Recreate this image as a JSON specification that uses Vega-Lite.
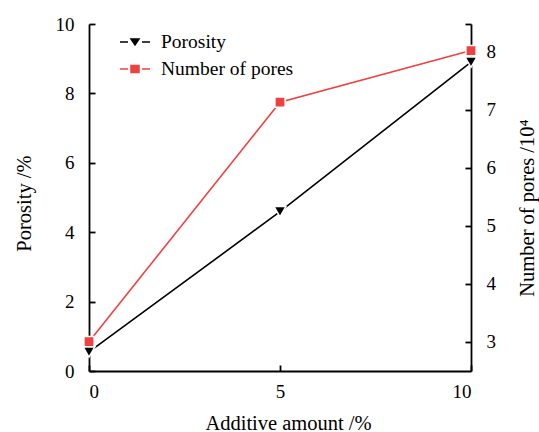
{
  "$schema": "https://vega.github.io/schema/vega-lite/v6.json",
  "width": 382,
  "height": 347,
  "autosize": {"type": "none"},
  "padding": {"left": 89, "top": 24, "right": 68, "bottom": 61},
  "background": "white",
  "config": {
    "view": {"stroke": null},
    "font": "Liberation Serif",
    "axis": {
      "grid": false,
      "domainColor": "black",
      "tickColor": "black",
      "domainWidth": 1.8,
      "tickWidth": 1.8,
      "tickSize": -6,
      "labelFont": "Liberation Serif",
      "labelFontSize": 19,
      "labelColor": "black",
      "labelOverlap": false,
      "titleFont": "Liberation Serif",
      "titleFontSize": 20.5,
      "titleFontWeight": "normal",
      "titleColor": "black",
      "zindex": 1
    },
    "legend": {
      "orient": "none",
      "legendX": 35,
      "legendY": 7,
      "padding": 0,
      "symbolSize": 400,
      "symbolStrokeWidth": 1.5,
      "symbolOpacity": 1,
      "labelFont": "Liberation Serif",
      "labelFontSize": 19.5,
      "labelColor": "black",
      "labelOffset": 15,
      "rowPadding": 6
    }
  },
  "data": {
    "values": [
      {"amount": 0, "series": "Porosity", "value": 0.55},
      {"amount": 5, "series": "Porosity", "value": 4.59},
      {"amount": 10, "series": "Porosity", "value": 8.9},
      {"amount": 0, "series": "Number of pores", "value": 3.0},
      {"amount": 5, "series": "Number of pores", "value": 7.13},
      {"amount": 10, "series": "Number of pores", "value": 8.02}
    ]
  },
  "encoding": {
    "x": {
      "field": "amount",
      "type": "quantitative",
      "scale": {"domain": [0, 10], "nice": false},
      "axis": {
        "values": [0, 5, 10],
        "title": "Additive amount /%",
        "labelPadding": 17,
        "titleX": 199,
        "titleY": 58,
        "titleBaseline": "alphabetic"
      }
    }
  },
  "layer": [
    {
      "transform": [{"filter": "datum.series === 'Porosity'"}],
      "encoding": {
        "y": {
          "field": "value",
          "type": "quantitative",
          "scale": {"domain": [0, 10], "nice": false},
          "axis": {
            "orient": "left",
            "values": [0, 2, 4, 6, 8, 10],
            "title": "Porosity /%",
            "titleAngle": 270,
            "titleX": -65,
            "titleY": 179,
            "titleBaseline": "middle",
            "labelPadding": 21
          }
        }
      },
      "layer": [
        {"mark": {"type": "line", "color": "black", "strokeWidth": 1.6}},
        {"mark": {"type": "point", "shape": "triangle-down", "filled": true, "color": "black", "size": 140, "opacity": 1, "stroke": "white", "strokeWidth": 1.5}}
      ]
    },
    {
      "transform": [{"filter": "datum.series === 'Number of pores'"}],
      "encoding": {
        "y": {
          "field": "value",
          "type": "quantitative",
          "scale": {"domain": [2.495, 8.478], "nice": false, "zero": false},
          "axis": {
            "orient": "right",
            "values": [3, 4, 5, 6, 7, 8, 8.478],
            "labelExpr": "datum.value > 8.2 ? '' : format(datum.value, 'd')",
            "labelOverlap": false,
            "labelBound": false,
            "title": "Number of pores /10⁴",
            "titleAngle": 270,
            "titleX": 56,
            "titleY": 183.5,
            "titleBaseline": "middle",
            "labelPadding": 21
          }
        }
      },
      "layer": [
        {"mark": {"type": "line", "color": "#f04141", "strokeWidth": 1.6}},
        {"mark": {"type": "point", "shape": "square", "filled": true, "color": "#f04141", "size": 105, "opacity": 1, "stroke": "white", "strokeWidth": 1.5}}
      ]
    },
    {
      "description": "Key: line-and-marker glyph for each series, no marks drawn",
      "transform": [{"filter": "false"}],
      "mark": {"type": "point", "filled": true, "opacity": 1},
      "encoding": {
        "fill": {
          "field": "series",
          "type": "nominal",
          "scale": {"domain": ["Porosity", "Number of pores"], "range": ["black", "#f04141"]},
          "legend": {"title": null}
        },
        "stroke": {
          "field": "series",
          "type": "nominal",
          "scale": {"domain": ["Porosity", "Number of pores"], "range": ["black", "#f04141"]},
          "legend": {"title": null}
        },
        "shape": {
          "field": "series",
          "type": "nominal",
          "scale": {
            "domain": ["Porosity", "Number of pores"],
            "range": [
              "M-1.5,0H-0.7M0.7,0H1.5M-0.4,-0.3H0.4L0,0.3Z",
              "M-1.5,0H-0.7M0.7,0H1.5M-0.4,-0.35H0.4V0.35H-0.4Z"
            ]
          },
          "legend": {"title": null}
        }
      }
    }
  ],
  "resolve": {"scale": {"y": "independent"}}
}
